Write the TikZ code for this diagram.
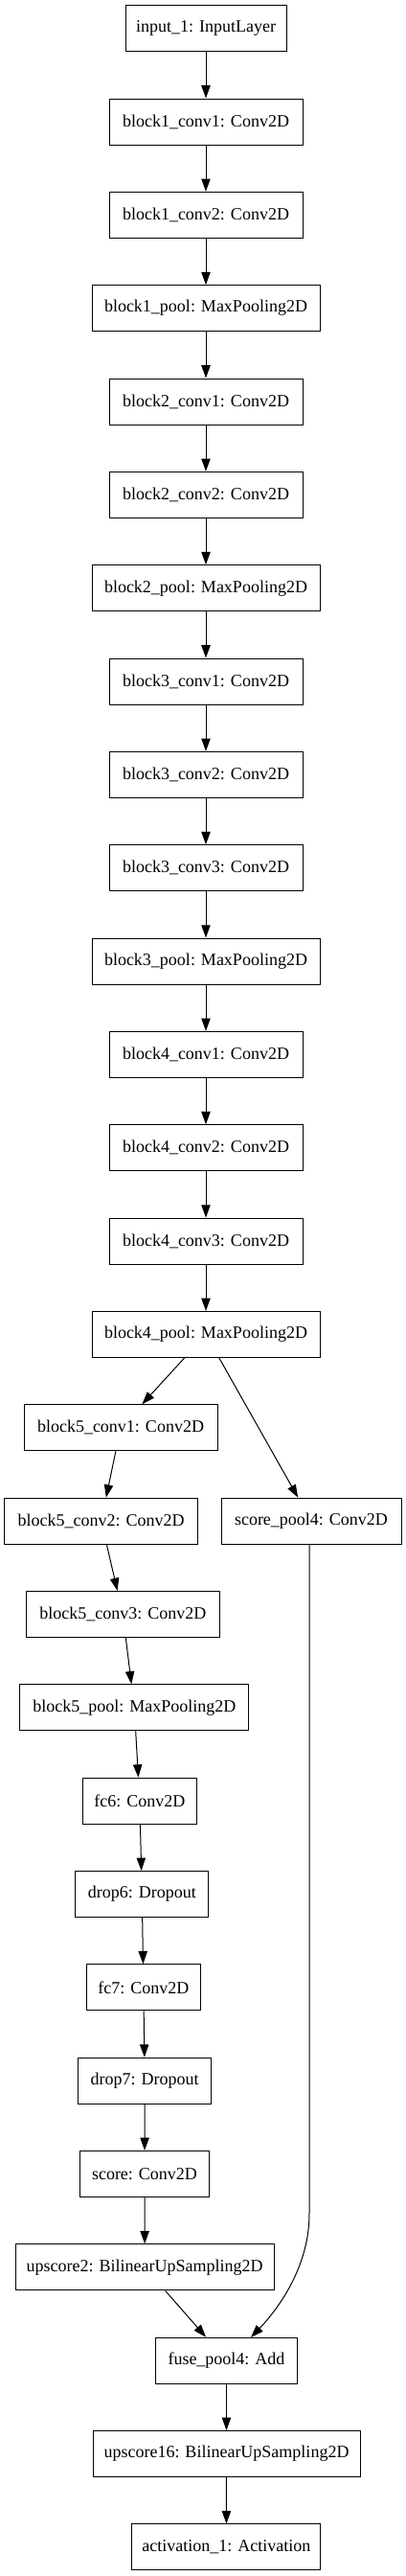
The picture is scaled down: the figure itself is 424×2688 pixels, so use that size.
\documentclass[tikz,border=0pt]{standalone}
\usepackage{fontspec}
\setmainfont{Liberation Serif}
\usetikzlibrary{arrows.meta}
\tikzset{
  layer/.style={draw=black, line width=0.75pt, inner sep=0pt, minimum height=36pt,
    font=\fontsize{13.5pt}{16pt}\selectfont, fill=white},
  bw/.style={minimum width=#1*0.75pt},
  arr/.style={line width=0.75pt, -{Triangle[length=10pt,width=7pt]}}
}
\newcommand{\rowy}[1]{29.67+97.34*#1}
\begin{document}
\begin{tikzpicture}[x=0.75pt,y=-0.75pt]
\useasboundingbox (0,0) rectangle (424,2688);
\node[layer,bw=168] (in)   at (215,{\rowy{0}})  {input\_1: InputLayer};
\node[layer,bw=202] (b1c1) at (215,{\rowy{1}})  {block1\_conv1: Conv2D};
\node[layer,bw=202] (b1c2) at (215,{\rowy{2}})  {block1\_conv2: Conv2D};
\node[layer,bw=238] (b1p)  at (215,{\rowy{3}})  {block1\_pool: MaxPooling2D};
\node[layer,bw=202] (b2c1) at (215,{\rowy{4}})  {block2\_conv1: Conv2D};
\node[layer,bw=202] (b2c2) at (215,{\rowy{5}})  {block2\_conv2: Conv2D};
\node[layer,bw=238] (b2p)  at (215,{\rowy{6}})  {block2\_pool: MaxPooling2D};
\node[layer,bw=202] (b3c1) at (215,{\rowy{7}})  {block3\_conv1: Conv2D};
\node[layer,bw=202] (b3c2) at (215,{\rowy{8}})  {block3\_conv2: Conv2D};
\node[layer,bw=202] (b3c3) at (215,{\rowy{9}})  {block3\_conv3: Conv2D};
\node[layer,bw=238] (b3p)  at (215,{\rowy{10}}) {block3\_pool: MaxPooling2D};
\node[layer,bw=202] (b4c1) at (215,{\rowy{11}}) {block4\_conv1: Conv2D};
\node[layer,bw=202] (b4c2) at (215,{\rowy{12}}) {block4\_conv2: Conv2D};
\node[layer,bw=202] (b4c3) at (215,{\rowy{13}}) {block4\_conv3: Conv2D};
\node[layer,bw=238] (b4p)  at (215,{\rowy{14}}) {block4\_pool: MaxPooling2D};
\node[layer,bw=202] (b5c1) at (126,{\rowy{15}}) {block5\_conv1: Conv2D};
\node[layer,bw=202] (b5c2) at (105.7,{\rowy{16}}) {block5\_conv2: Conv2D};
\node[layer,bw=188] (sp4)  at (325,{\rowy{16}}) {score\_pool4: Conv2D};
\node[layer,bw=202] (b5c3) at (128.3,{\rowy{17}}) {block5\_conv3: Conv2D};
\node[layer,bw=239] (b5p)  at (140.3,{\rowy{18}}) {block5\_pool: MaxPooling2D};
\node[layer,bw=119] (fc6)  at (145.8,{\rowy{19}}) {fc6: Conv2D};
\node[layer,bw=139] (d6)   at (148.3,{\rowy{20}}) {drop6: Dropout};
\node[layer,bw=119] (fc7)  at (149.8,{\rowy{21}}) {fc7: Conv2D};
\node[layer,bw=139] (d7)   at (151.2,{\rowy{22}}) {drop7: Dropout};
\node[layer,bw=135] (sc)   at (151,{\rowy{23}}) {score: Conv2D};
\node[layer,bw=270] (up2)  at (151.2,{\rowy{24}}) {upscore2: BilinearUpSampling2D};
\node[layer,bw=148] (fuse) at (236.5,{\rowy{25}}) {fuse\_pool4: Add};
\node[layer,bw=279] (up16) at (236.5,{\rowy{26}}) {upscore16: BilinearUpSampling2D};
\node[layer,bw=197] (act)  at (236.4,{\rowy{27}}) {activation\_1: Activation};
\draw[arr] (in) -- (b1c1);
\draw[arr] (b1c1) -- (b1c2);
\draw[arr] (b1c2) -- (b1p);
\draw[arr] (b1p) -- (b2c1);
\draw[arr] (b2c1) -- (b2c2);
\draw[arr] (b2c2) -- (b2p);
\draw[arr] (b2p) -- (b3c1);
\draw[arr] (b3c1) -- (b3c2);
\draw[arr] (b3c2) -- (b3c3);
\draw[arr] (b3c3) -- (b3p);
\draw[arr] (b3p) -- (b4c1);
\draw[arr] (b4c1) -- (b4c2);
\draw[arr] (b4c2) -- (b4c3);
\draw[arr] (b4c3) -- (b4p);
\draw[arr] (b4p) -- (b5c1);
\draw[arr] (b4p) -- (sp4);
\draw[arr] (b5c1) -- (b5c2);
\draw[arr] (b5c2) -- (b5c3);
\draw[arr] (b5c3) -- (b5p);
\draw[arr] (b5p) -- (fc6);
\draw[arr] (fc6) -- (d6);
\draw[arr] (d6) -- (fc7);
\draw[arr] (fc7) -- (d7);
\draw[arr] (d7) -- (sc);
\draw[arr] (sc) -- (up2);
\draw[arr] (up2) -- (fuse);
\coordinate (bend) at (323,2310);
\coordinate (fin) at (262,2439);
\draw[arr] (sp4.south -| bend) -- (bend) .. controls (323,2370) and (285,2415) .. (fin);
\draw[arr] (fuse) -- (up16);
\draw[arr] (up16) -- (act);
\end{tikzpicture}
\end{document}
